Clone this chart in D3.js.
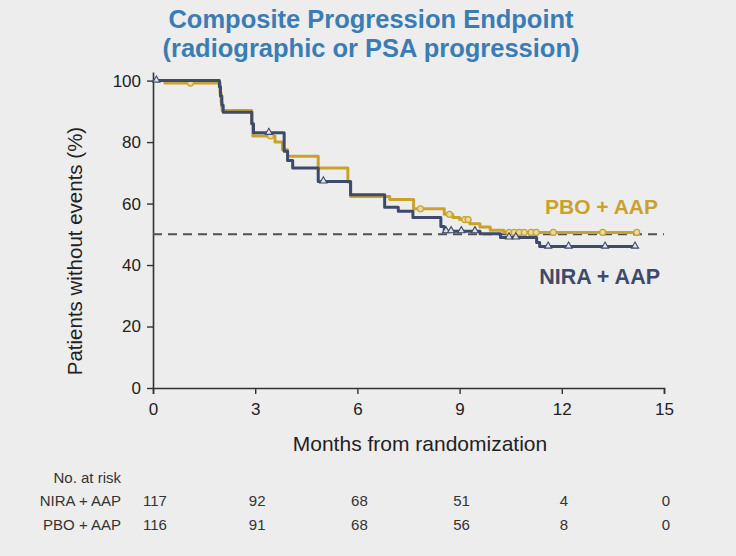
<!DOCTYPE html>
<html><head><meta charset="utf-8">
<script src="https://cdn.jsdelivr.net/npm/d3@7"></script>
<style>
html,body{margin:0;padding:0;background:#ededed;}
svg{display:block;font-family:"Liberation Sans",Arial,sans-serif;}
</style></head>
<body>
<svg id="chart" width="736" height="556"></svg>
<script>
// ---- data ----
const titleLines = ["Composite Progression Endpoint", "(radiographic or PSA progression)"];
const xTicks = [0, 3, 6, 9, 12, 15];
const yTicks = [0, 20, 40, 60, 80, 100];
const seriesNames = ["NIRA + AAP", "PBO + AAP"];

const niraTimes = [0, 1.95, 1.98, 2.02, 2.06, 2.9, 2.95, 3.85, 3.95, 4.1, 4.85, 5.8, 6.8, 7.2, 7.63, 8.45, 8.55, 9.6, 10.2, 11.26, 11.35, 14.15];
const niraSurv  = [100, 98, 95, 92, 89.7, 86, 83, 77, 74, 71.6, 67.2, 62.9, 58.8, 57.5, 55.5, 52.5, 51.0, 50.2, 49.0, 47.3, 46.0, 46.0];
const niraCensor = [0.1, 3.4, 5.0, 8.6, 8.75, 9.05, 9.45, 10.45, 10.65, 11.6, 12.2, 13.27, 14.15];

const pboTimes = [0, 0.35, 1.97, 2.0, 2.03, 2.9, 2.93, 3.58, 3.8, 3.95, 4.85, 5.72, 5.8, 6.95, 7.65, 8.55, 8.8, 9.0, 9.3, 9.6, 9.9, 10.3, 14.2];
const pboSurv  = [100, 99.2, 96, 93, 90.3, 86, 82, 80, 77.5, 75.4, 71.6, 67, 62.3, 61.3, 58.3, 56.5, 55.5, 54.8, 53.4, 52.4, 51.3, 50.6, 50.6];
const pboCensor = [1.1, 3.45, 7.85, 8.7, 9.15, 9.25, 10.45, 10.6, 10.75, 10.9, 11.1, 11.25, 11.75, 13.2, 14.2];

const riskTimes = [0, 3, 6, 9, 12, 15];
const niraRisk = [117, 92, 68, 51, 4, 0];
const pboRisk  = [116, 91, 68, 56, 8, 0];
const medianLine = 50;

// ---- layout ----
const colNira = "#3d4a6a", colPbo = "#c9a22c", colTitle = "#3a7db4", colAxis = "#333";
const svg = d3.select("#chart");
const x = d3.scaleLinear().domain([0, 15]).range([153, 664]);
const y = d3.scaleLinear().domain([0, 102.8]).range([388, 72]);

// title
svg.selectAll("text.title").data(titleLines).join("text")
  .attr("x", 371).attr("y", (d, i) => 28 + i * 29)
  .attr("text-anchor", "middle").attr("font-size", 25.5).attr("font-weight", "bold")
  .attr("fill", colTitle).text(d => d);

// axes
const gx = svg.append("g").attr("transform", `translate(0,${y(0)})`)
  .call(d3.axisBottom(x).tickValues(xTicks).tickSize(6).tickSizeOuter(6).tickPadding(9));
const gy = svg.append("g").attr("transform", `translate(${x(0)},0)`)
  .call(d3.axisLeft(y).tickValues(yTicks).tickSize(6).tickSizeOuter(0).tickPadding(6));
[gx, gy].forEach(g => {
  g.select(".domain").attr("stroke", colAxis).attr("stroke-width", 1.6);
  g.selectAll(".tick line").attr("stroke", colAxis).attr("stroke-width", 1.4);
  g.selectAll(".tick text").attr("fill", "#222").attr("font-size", 17)
    .attr("font-family", "Liberation Sans, Arial, sans-serif");
});

// axis titles
svg.append("text").attr("x", 420).attr("y", 451).attr("text-anchor", "middle")
  .attr("font-size", 21).attr("fill", "#222").text("Months from randomization");
svg.append("text").attr("transform", `translate(82,251) rotate(-90)`)
  .attr("text-anchor", "middle").attr("font-size", 20.5).attr("fill", "#222")
  .text("Patients without events (%)");

// median dashed line
svg.append("line").attr("x1", x(0)).attr("x2", x(15)).attr("y1", y(medianLine)).attr("y2", y(medianLine))
  .attr("stroke", "#505050").attr("stroke-width", 2).attr("stroke-dasharray", "9,6");

// KM curves
const line = d3.line().x(d => x(d[0])).y(d => y(d[1])).curve(d3.curveStepAfter);
const stepAt = (times, surv, t) => { let v = surv[0]; for (let i = 0; i < times.length; i++) if (times[i] <= t) v = surv[i]; return v; };

function drawSeries(times, surv, censor, col, marker) {
  const pts = times.map((t, i) => [t, surv[i]]);
  svg.append("path").datum(pts).attr("d", line).attr("fill", "none")
    .attr("stroke", col).attr("stroke-width", 3).attr("stroke-linejoin", "round");
  const g = svg.append("g");
  censor.forEach(t => {
    const cx = x(t), cy = y(stepAt(times, surv, t));
    if (marker === "tri") {
      g.append("path").attr("d", d3.symbol().type(d3.symbolTriangle).size(22)())
        .attr("transform", `translate(${cx},${cy - 0.5})`)
        .attr("fill", "#dfe2e8").attr("stroke", col).attr("stroke-width", 1.1);
    } else {
      g.append("circle").attr("cx", cx).attr("cy", cy).attr("r", 3)
        .attr("fill", "#e8d9a0").attr("stroke", col).attr("stroke-width", 1.2);
    }
  });
}
drawSeries(pboTimes, pboSurv, pboCensor, colPbo, "circle");
drawSeries(niraTimes, niraSurv, niraCensor, colNira, "tri");

// series labels
svg.append("text").attr("x", 658).attr("y", 214).attr("text-anchor", "end")
  .attr("font-size", 21).attr("font-weight", "bold").attr("fill", colPbo).text(seriesNames[1]);
svg.append("text").attr("x", 660).attr("y", 284).attr("text-anchor", "end")
  .attr("font-size", 21.5).attr("font-weight", "bold").attr("fill", colNira).text(seriesNames[0]);

// risk table
const rt = svg.append("g").attr("font-size", 15).attr("fill", "#333");
rt.append("text").attr("x", 121).attr("y", 483).attr("text-anchor", "end").text("No. at risk");
[[seriesNames[0], niraRisk, 506], [seriesNames[1], pboRisk, 530]].forEach(([name, vals, yy]) => {
  rt.append("text").attr("x", 121).attr("y", yy).attr("text-anchor", "end").text(name);
  rt.selectAll(null).data(vals).join("text")
    .attr("x", (d, i) => x(riskTimes[i]) + 2).attr("y", yy).attr("text-anchor", "middle").text(d => d);
});
</script>
</body></html>
